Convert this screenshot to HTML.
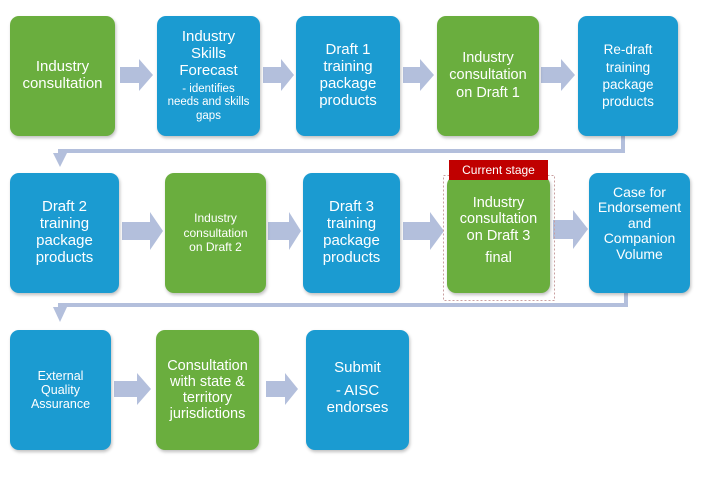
<!DOCTYPE html>
<html><head><meta charset="utf-8"><style>
body{margin:0;width:704px;height:477px;background:#fff;position:relative;overflow:hidden;font-family:"Liberation Sans",Arial,sans-serif}
.b{position:absolute;border-radius:9px;color:#fff;display:flex;flex-direction:column;align-items:center;justify-content:center;text-align:center;line-height:1.13;box-shadow:1px 2px 3px rgba(0,0,0,.25)}
.g{background:#6aae3e}.u{background:#1b9bd1}
svg{position:absolute;left:0;top:0}
</style></head><body>
<svg width="704" height="477">
<g fill="#b3bfdc">
<polygon points="120,67 139,67 139,59 153,75 139,91 139,83 120,83"/>
<polygon points="263,67 281,67 281,59 294,75 281,91 281,83 263,83"/>
<polygon points="403,67 420,67 420,59 434,75 420,91 420,83 403,83"/>
<polygon points="541,67 561,67 561,59 575,75 561,91 561,83 541,83"/>
<polygon points="122,222 150,222 150,212 163,231 150,250 150,240 122,240"/>
<polygon points="268,222 289,222 289,212 301,231 289,250 289,240 268,240"/>
<polygon points="403,222 430,222 430,212 444,231 430,250 430,240 403,240"/>
<polygon points="553,220 573,220 573,210 588,229 573,249 573,239 553,239"/>
<polygon points="114,381 137,381 137,373 151,389 137,405 137,397 114,397"/>
<polygon points="266,381 285,381 285,373 298,389 285,405 285,397 266,397"/>
<rect x="621" y="136" width="4" height="16"/>
<rect x="58" y="149" width="567" height="4"/>
<polygon points="53,153 67,153 60,167"/>
<rect x="624" y="292" width="4" height="14"/>
<rect x="58" y="303" width="570" height="4"/>
<polygon points="53,307 67,307 60,322"/>
</g>
<rect x="443.5" y="175.5" width="111" height="125" fill="none" stroke="#c9a0a0" stroke-width="1" stroke-dasharray="2,2"/>
</svg>
<div class="b g" style="left:10px;top:16px;width:105px;height:120px;font-size:15px">Industry<br>consultation</div>
<div class="b u" style="left:157px;top:16px;width:103px;height:120px;font-size:15px">Industry<br>Skills<br>Forecast<span style="font-size:11.5px;margin-top:3px;line-height:1.15">- identifies<br>needs and skills<br>gaps</span></div>
<div class="b u" style="left:296px;top:16px;width:104px;height:120px;font-size:15px">Draft 1<br>training<br>package<br>products</div>
<div class="b g" style="left:437px;top:16px;width:102px;height:120px;font-size:14.5px;line-height:1.2">Industry<br>consultation<br>on Draft 1</div>
<div class="b u" style="left:578px;top:16px;width:100px;height:120px;font-size:13.5px;line-height:1.28">Re-draft<br>training<br>package<br>products</div>

<div class="b u" style="left:10px;top:173px;width:109px;height:120px;font-size:15px">Draft 2<br>training<br>package<br>products</div>
<div class="b g" style="left:165px;top:173px;width:101px;height:120px;font-size:12px;line-height:1.2">Industry<br>consultation<br>on Draft 2</div>
<div class="b u" style="left:303px;top:173px;width:97px;height:120px;font-size:15px">Draft 3<br>training<br>package<br>products</div>
<div class="b g" style="left:447px;top:176px;width:103px;height:117px;font-size:14.5px;justify-content:flex-start;padding-top:0"><div style="margin-top:19px">Industry<br>consultation<br>on Draft 3</div><div style="margin-top:6px">final</div></div>
<div style="position:absolute;left:449px;top:160px;width:99px;height:20px;background:#c00000;color:#fff;font-size:12px;text-align:center;line-height:20px">Current stage</div>
<div class="b u" style="left:589px;top:173px;width:101px;height:120px;font-size:14px;justify-content:flex-start"><div style="margin-top:12px;line-height:1.1">Case for<br>Endorsement<br>and<br>Companion<br>Volume</div></div>

<div class="b u" style="left:10px;top:330px;width:101px;height:120px;font-size:12.5px">External<br>Quality<br>Assurance</div>
<div class="b g" style="left:156px;top:330px;width:103px;height:120px;font-size:14.5px;line-height:1.12">Consultation<br>with state &amp;<br>territory<br>jurisdictions</div>
<div class="b u" style="left:306px;top:330px;width:103px;height:120px;font-size:15px;justify-content:flex-start"><div style="margin-top:30px">Submit</div><div style="margin-top:6px">- AISC<br>endorses</div></div>
</body></html>
